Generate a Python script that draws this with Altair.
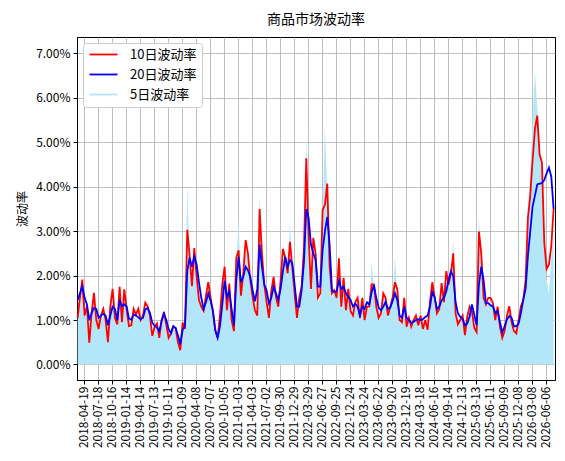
import altair as alt
import pandas as pd

FONT = "Noto Sans CJK SC"

# sampling of the series (one value every 15 days)
start_date = "2018-03-09"
step_days = 15

vol10 = [
    1.05, 1.5, 1.91, 1.1, 1.31, 0.49, 1.16, 1.61, 1.0, 0.8,
    1.1, 1.25, 1.0, 0.5, 1.3, 1.7, 1.05, 0.9, 1.75, 0.95,
    1.69, 1.24, 0.86, 0.88, 1.25, 1.12, 1.25, 1.0, 1.1, 1.39,
    1.31, 1.09, 0.64, 0.85, 0.92, 0.6, 1.0, 1.18, 0.9, 0.6,
    0.7, 0.86, 0.82, 0.5, 0.32, 0.94, 0.8, 3.03, 2.45, 1.76,
    2.62, 2.0, 1.45, 1.3, 1.2, 1.55, 1.85, 1.5, 1.2, 0.77,
    0.6, 1.1, 1.8, 2.2, 1.22, 1.82, 1.0, 0.75, 2.4, 2.57,
    1.55, 2.05, 2.8, 2.5, 1.9, 1.52, 1.22, 1.1, 3.5, 2.5,
    1.8, 1.4, 1.05, 1.65, 1.97, 1.52, 1.3, 1.9, 2.6, 2.4,
    2.05, 2.76, 2.2, 1.6, 1.05, 1.5, 1.75, 2.6, 4.64, 2.9,
    1.7, 2.85, 2.5, 1.5, 1.6, 3.47, 3.6, 4.07, 2.2, 1.6,
    1.67, 1.5, 2.39, 1.3, 1.95, 1.22, 1.7, 1.2, 1.1, 1.4,
    1.5, 1.05, 1.5, 1.0, 1.3, 1.3, 1.8, 1.8, 1.3, 1.05,
    1.15, 1.6, 1.5, 1.1, 1.3, 1.5, 1.85, 1.7, 1.0, 0.95,
    1.5, 0.85, 1.05, 0.85, 1.0, 1.1, 0.88, 1.1, 0.8, 1.0,
    0.78, 1.4, 1.85, 1.52, 1.15, 1.25, 1.83, 1.4, 2.1, 1.8,
    2.05, 2.5, 1.15, 0.9, 1.0, 1.1, 0.66, 1.08, 1.3, 1.2,
    0.82, 0.73, 2.99, 2.5, 1.5, 1.35, 1.5, 1.5, 1.38, 1.0,
    1.3, 0.85, 0.6, 0.75, 1.1, 1.31, 0.95, 0.75, 0.7, 1.0,
    1.31, 1.45, 1.9, 3.3, 3.8, 4.6, 5.3, 5.6, 4.72, 4.55,
    2.75, 2.15, 2.25, 2.66, 3.5,
]

vol20 = [
    1.45, 1.6, 1.76, 1.5, 1.35, 1.0, 1.16, 1.27, 1.25, 1.05,
    1.1, 1.14, 1.1, 0.88, 1.1, 1.3, 1.25, 1.0, 1.45, 1.31,
    1.35, 1.31, 1.03, 1.01, 1.12, 1.1, 1.06, 1.02, 1.05, 1.24,
    1.27, 1.16, 0.94, 0.87, 0.83, 0.75, 0.98, 1.14, 1.0, 0.8,
    0.7, 0.86, 0.82, 0.66, 0.45, 0.78, 0.86, 2.1, 2.4, 2.2,
    2.43, 2.25, 1.85, 1.5, 1.25, 1.4, 1.6, 1.43, 1.2, 0.77,
    0.6, 0.85, 1.35, 1.88, 1.52, 1.65, 1.25, 0.88, 1.9, 2.42,
    1.85, 1.97, 2.2, 2.12, 1.97, 1.67, 1.42, 1.7, 2.7, 2.2,
    1.8, 1.67, 1.37, 1.5, 1.75, 1.6, 1.45, 1.7, 2.1, 2.42,
    2.2, 2.35, 2.28, 1.8, 1.3, 1.3, 1.67, 2.3, 3.5, 3.3,
    2.7, 2.5, 2.35, 1.75, 1.75, 2.57, 3.0, 3.32, 2.7, 1.67,
    1.63, 1.65, 1.88, 1.7, 1.75, 1.6, 1.52, 1.45, 1.3, 1.37,
    1.3, 1.1, 1.3, 1.25, 1.4, 1.35, 1.62, 1.78, 1.5, 1.28,
    1.22, 1.3, 1.41, 1.25, 1.28, 1.43, 1.6, 1.45, 1.1, 1.05,
    1.3, 1.05, 1.0, 0.93, 0.96, 1.0, 1.02, 1.0, 1.02, 1.07,
    1.1, 1.3, 1.63, 1.52, 1.25, 1.3, 1.44, 1.5, 1.65, 1.9,
    2.1, 1.98, 1.4, 1.15, 1.07, 1.02, 0.88, 0.92, 1.08, 1.35,
    1.12, 0.88, 1.8, 2.2, 1.9, 1.38, 1.38, 1.33, 1.31, 1.16,
    1.2, 0.95, 0.72, 0.86, 1.01, 1.09, 1.05, 0.86, 0.86, 0.92,
    1.16, 1.46, 1.7, 2.45, 3.0, 3.56, 3.8, 4.05, 4.07, 4.08,
    4.15, 4.3, 4.43, 4.23, 3.5,
]

vol5 = [
    1.0, 1.3, 1.8, 1.0, 1.2, 0.5, 1.0, 1.5, 0.9, 0.75,
    1.0, 1.1, 0.9, 0.5, 1.2, 1.6, 1.0, 0.85, 1.6, 0.9,
    1.5, 1.1, 0.8, 0.85, 1.1, 1.0, 1.1, 0.95, 1.0, 1.3,
    1.2, 1.0, 0.6, 0.8, 0.85, 0.6, 0.95, 1.1, 0.85, 0.6,
    0.65, 0.8, 0.75, 0.5, 0.35, 0.85, 0.8, 4.1, 2.2, 1.7,
    2.4, 1.9, 1.4, 1.25, 1.1, 1.4, 1.7, 1.4, 1.1, 0.75,
    0.6, 1.0, 1.6, 2.0, 1.2, 1.7, 1.0, 0.75, 2.2, 3.3,
    1.5, 1.9, 2.6, 2.3, 1.8, 1.45, 1.2, 1.1, 3.8, 2.3,
    1.7, 1.35, 1.0, 1.5, 1.8, 1.45, 1.25, 1.8, 2.4, 2.3,
    1.95, 3.2, 2.1, 1.5, 1.0, 1.4, 1.6, 2.4, 5.2, 2.7,
    1.6, 2.6, 2.3, 1.4, 1.5, 3.3, 5.35, 3.9, 2.1, 1.5,
    1.6, 1.45, 2.3, 1.25, 1.85, 1.2, 1.6, 1.15, 1.05, 1.3,
    1.4, 1.0, 1.4, 0.95, 1.25, 1.25, 2.3, 1.7, 1.25, 1.0,
    1.1, 1.5, 1.45, 1.05, 1.25, 1.4, 2.4, 1.6, 0.95, 0.9,
    1.4, 0.8, 1.0, 0.8, 0.95, 1.05, 0.85, 1.05, 0.8, 0.95,
    0.75, 1.3, 1.8, 1.45, 1.1, 1.2, 1.75, 1.35, 2.0, 1.7,
    2.0, 2.8, 1.1, 0.85, 0.95, 1.05, 0.65, 1.0, 1.2, 1.15,
    0.8, 0.7, 3.3, 2.4, 1.45, 1.3, 1.4, 1.4, 1.3, 0.95,
    1.25, 0.8, 0.6, 0.7, 1.05, 1.25, 0.9, 0.7, 0.7, 0.95,
    1.25, 1.4, 1.8, 3.6, 4.3, 5.5, 6.6, 5.8, 4.9, 4.4,
    2.6, 1.9, 1.6, 2.4, 2.9,
]

tick_labels = [
    "2018-04-19", "2018-07-18", "2018-10-16", "2019-01-14", "2019-04-14",
    "2019-07-13", "2019-10-11", "2020-01-09", "2020-04-08", "2020-07-07",
    "2020-10-05", "2021-01-03", "2021-04-03", "2021-07-02", "2021-09-30",
    "2021-12-29", "2022-03-29", "2022-06-27", "2022-09-25", "2022-12-24",
    "2023-03-24", "2023-06-22", "2023-09-20", "2023-12-19", "2024-03-18",
    "2024-06-16", "2024-09-14", "2024-12-13", "2025-03-13", "2025-06-11",
    "2025-09-09", "2025-12-08", "2026-03-08", "2026-06-06",
]
x_range = ["2018-03-05", "2026-08-03"]
y_ticks = [0, 1, 2, 3, 4, 5, 6, 7]
y_range = [-0.35, 7.37]

series_names = ["10日波动率", "20日波动率", "5日波动率"]
series_colors = ["#ff0000", "#0000ff", "#b4e6fa"]
series_widths = [1.8, 1.8, 9]

assert len(vol10) == len(vol20) == len(vol5)

dates = list(pd.date_range(start_date, periods=len(vol10), freq=f"{step_days}D").strftime("%Y-%m-%d"))
long_df = pd.concat(
    [pd.DataFrame({"date": dates, "value": arr, "series": name})
     for name, arr in zip(series_names, [vol10, vol20, vol5])],
    ignore_index=True,
)


def dt(s):
    y, m, d = map(int, s.split("-"))
    return alt.DateTime(year=y, month=m, date=d, utc=True)


x_scale = alt.Scale(type="utc", domain=[dt(x_range[0]), dt(x_range[1])])
y_scale = alt.Scale(domain=y_range, nice=False, zero=False)

x_axis = alt.Axis(
    values=[dt(s) for s in tick_labels],
    labelExpr="utcFormat(datum.value, '%Y-%m-%d')",
    labelAngle=270, labelOverlap=False, labelFontSize=12, labelPadding=2,
    tickSize=4, title=None,
)
y_axis = alt.Axis(
    values=y_ticks,
    labelExpr="format(datum.value, '.2f') + '%'",
    labelFontSize=12, labelPadding=3, tickSize=4,
    title="波动率", titleFontSize=12, titleFontWeight="normal", titlePadding=6,
)

color_scale = alt.Scale(domain=series_names, range=series_colors)
width_scale = alt.Scale(domain=series_names, range=series_widths)

legend = alt.Legend(
    title=None, orient="top-left", offset=6, padding=5,
    fillColor="white", strokeColor="#cccccc", cornerRadius=3,
    labelFont=FONT, labelFontSize=13, labelColor="black",
    symbolSize=100, labelOffset=29, rowPadding=6,
    symbolType="M-1,0H4.6", symbolOpacity=1,
)


def layer(name, mark):
    enc = dict(
        x=alt.X("date:T", scale=x_scale, axis=x_axis),
        y=alt.Y("value:Q", scale=y_scale, axis=y_axis),
        color=alt.Color("series:N", scale=color_scale, legend=legend),
        strokeWidth=alt.StrokeWidth("series:N", scale=width_scale, legend=legend),
    )
    if name == "5日波动率":
        enc["y2"] = alt.datum(0)
    return alt.Chart(long_df).transform_filter(alt.datum.series == name).mark_area(opacity=1) .encode(**enc) if mark == "area" else \
        alt.Chart(long_df).transform_filter(alt.datum.series == name).mark_line().encode(**enc)


chart = (
    alt.layer(layer("5日波动率", "area"), layer("10日波动率", "line"), layer("20日波动率", "line"))
    .properties(
        width=478, height=343,
        title=alt.Title("商品市场波动率", fontSize=14, font=FONT, fontWeight="normal", offset=10, color="black"),
        padding={"left": 69, "top": 29, "right": 2, "bottom": 72},
        autosize=alt.AutoSizeParams(type="none"),
    )
    .configure_view(stroke="black", strokeWidth=1)
    .configure_axis(
        labelFont=FONT, titleFont=FONT, labelColor="black", titleColor="black",
        gridColor="#b0b0b0", gridWidth=0.8, grid=True,
        domainColor="black", tickColor="black",
    )
)

chart.save("out.html", embed_options={"renderer": "svg", "actions": False})
